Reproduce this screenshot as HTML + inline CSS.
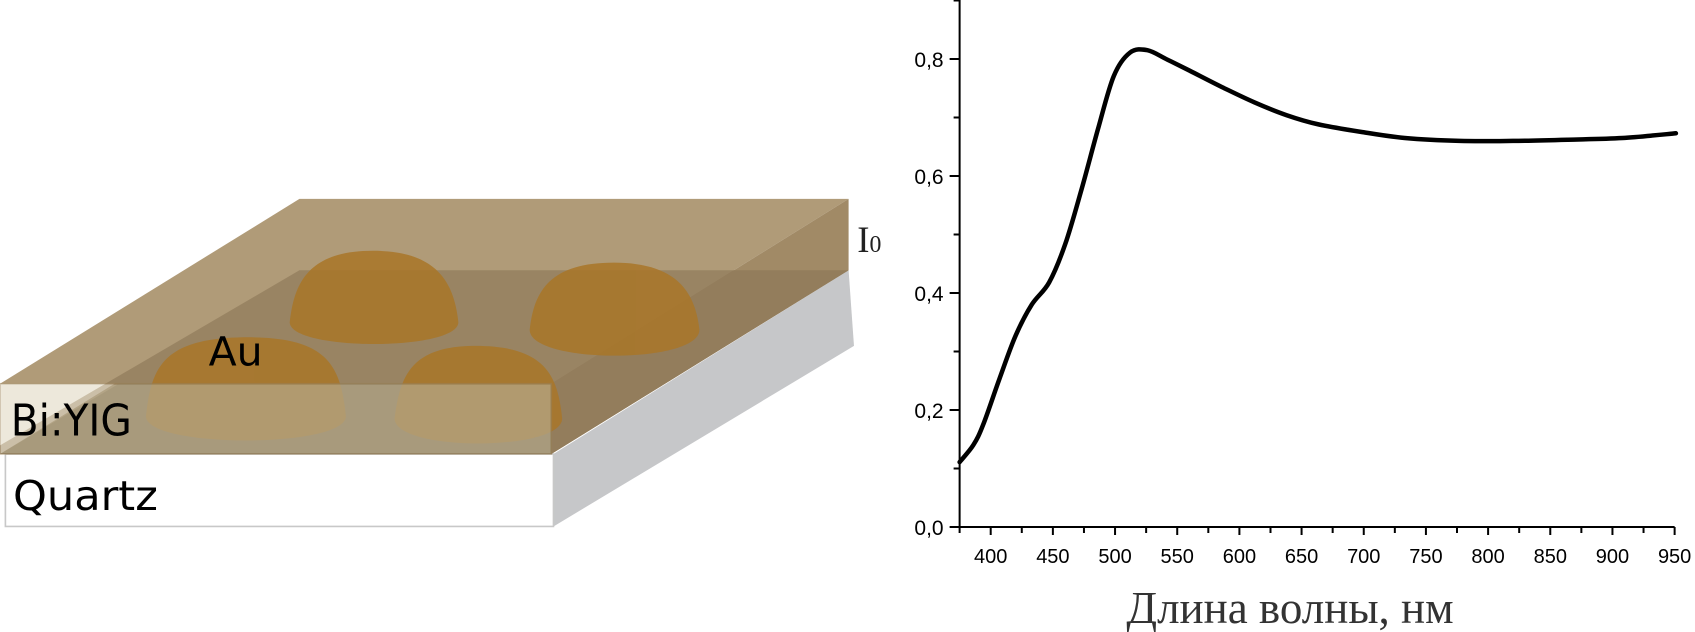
<!DOCTYPE html>
<html><head><meta charset="utf-8"><style>
html,body{margin:0;padding:0;background:#fff;}
svg{display:block;}
</style></head><body>
<svg id="root" width="1695" height="632" viewBox="0 0 1695 632" xmlns="http://www.w3.org/2000/svg">
<g transform="scale(1.081)">
  <polygon points="512,420 785,250 790,320 512,487" fill="#c6c7c9"/>
  <rect x="5" y="420" width="507" height="67" fill="#fff" stroke="#c8c8c8" stroke-width="1.5"/>
  <text x="12" y="472" font-family="DejaVu Sans, Liberation Sans, sans-serif" font-size="38" fill="#000" textLength="134" lengthAdjust="spacingAndGlyphs">Quartz</text>
  <polygon points="277,250 785,250 510,420 0,420" fill="#8b7555"/>
  <polygon points="0,355 277,184 785,184 510,355" fill="#b09b78"/>
  <polygon points="510,355 785,184 785,250 510,420" fill="#a18a66"/>
  <polygon points="277,250 785,250 510,420 0,420 0,412" fill="#8b7555" opacity="0.6"/>
  <g fill="#a97628" opacity="0.85">
    <path d="M268,298 C272,262 285,232 345,232 C405,232 420,262 424,298 C424,325 268,325 268,298 Z"/>
    <path d="M490,305 C494,268 510,243 568,243 C626,243 643,270 647,305 C647,337 490,337 490,305 Z"/>
    <path d="M135,385 C140,340 150,312 230,312 C305,312 315,340 320,385 C320,415 135,415 135,385 Z"/>
    <path d="M365,387 C370,348 380,320 440,320 C505,320 516,348 520,387 C520,418 365,418 365,387 Z"/>
  </g>
  <rect x="0" y="355" width="510" height="65" fill="#ddd3b8" opacity="0.5" stroke="#9a8056" stroke-width="1.5"/>
  <polygon points="0,420 110,355 510,355 510,420" fill="#8f8468" opacity="0.3"/>
  <text x="10" y="403" font-family="DejaVu Sans, Liberation Sans, sans-serif" font-size="40" fill="#000" textLength="112" lengthAdjust="spacingAndGlyphs">Bi:YIG</text>
  <text x="193" y="338" font-family="DejaVu Sans, Liberation Sans, sans-serif" font-size="37" fill="#000" textLength="50" lengthAdjust="spacingAndGlyphs">Au</text>
  <text x="793" y="233" font-family="Liberation Serif, serif" font-size="34" fill="#222">I<tspan font-size="22">0</tspan></text>
</g>
<g id="chart"></g>
</svg>
<script>
const wavelengths = [375,386,394,407,420,433,447,460,473,486,499,512,526,542,560,586,612,638,664,699,733,777,820,864,908,951];
const values = [0.111,0.14,0.175,0.253,0.327,0.380,0.418,0.484,0.577,0.678,0.771,0.811,0.815,0.799,0.780,0.752,0.726,0.704,0.688,0.675,0.665,0.660,0.660,0.662,0.665,0.673];
const xTicks = [400,450,500,550,600,650,700,750,800,850,900,950];
const yTicks = [0,0.2,0.4,0.6,0.8];
const yTickLabels = ["0,0","0,2","0,4","0,6","0,8"];

const NS = "http://www.w3.org/2000/svg";
const g = document.getElementById('chart');
const X = l => 990.7 + (l - 400) * 1.2435;
const Y = v => 527 - v * 585;
function mk(tag, attrs, parent) {
  const e = document.createElementNS(NS, tag);
  for (const k in attrs) e.setAttribute(k, attrs[k]);
  (parent || g).appendChild(e);
  return e;
}
const yAxis = mk('line', {x1: X(375), y1: Y(0), x2: X(375), y2: 0, stroke: '#000', 'stroke-width': 2});


const xAxis = mk('line', {x1: X(375), y1: Y(0), x2: X(950), y2: Y(0), stroke: '#000', 'stroke-width': 2});


for (let v = 0.1; v < 0.95; v += 0.2) {
  const t = mk('line', {x1: X(375) - 6, y1: Y(v), x2: X(375), y2: Y(v), stroke: '#000', 'stroke-width': 2});
  
  
}
yTicks.forEach((v, i) => {
  const t = mk('line', {x1: X(375) - 10, y1: Y(v), x2: X(375), y2: Y(v), stroke: '#000', 'stroke-width': 2});
  
  
  const tx = mk('text', {x: X(375) - 16, y: Y(v) + 8, 'text-anchor': 'end', 'font-family': 'Liberation Sans, sans-serif', 'font-size': 21, fill: '#000'});
  tx.textContent = yTickLabels[i];
  
  
});
for (let l = 375; l < 950; l += 50) {
  const t = mk('line', {x1: X(l), y1: Y(0), x2: X(l), y2: Y(0) + 6, stroke: '#000', 'stroke-width': 2});
  
  
}
xTicks.forEach(l => {
  const t = mk('line', {x1: X(l), y1: Y(0), x2: X(l), y2: Y(0) + 8, stroke: '#000', 'stroke-width': 2});
  
  
  const tx = mk('text', {x: X(l), y: 563, 'text-anchor': 'middle', 'font-family': 'Liberation Sans, sans-serif', 'font-size': 20, fill: '#000'});
  tx.textContent = String(l);
  
  
});
const pts = wavelengths.map((l, i) => [X(l), Y(values[i])]);
let d = 'M' + pts[0][0].toFixed(1) + ',' + pts[0][1].toFixed(1);
for (let i = 0; i < pts.length - 1; i++) {
  const p0 = pts[Math.max(0, i - 1)], p1 = pts[i], p2 = pts[i + 1], p3 = pts[Math.min(pts.length - 1, i + 2)];
  const c1x = p1[0] + (p2[0] - p0[0]) / 6, c1y = p1[1] + (p2[1] - p0[1]) / 6;
  const c2x = p2[0] - (p3[0] - p1[0]) / 6, c2y = p2[1] - (p3[1] - p1[1]) / 6;
  d += ' C' + c1x.toFixed(1) + ',' + c1y.toFixed(1) + ' ' + c2x.toFixed(1) + ',' + c2y.toFixed(1) + ' ' + p2[0].toFixed(1) + ',' + p2[1].toFixed(1);
}
const line = mk('path', {d: d, fill: 'none', stroke: '#000', 'stroke-width': 4.5, 'stroke-linejoin': 'round', 'stroke-linecap': 'round'});


const title = mk('text', {x: 1290, y: 623, 'text-anchor': 'middle', 'font-family': 'Liberation Serif, serif', 'font-size': 45, fill: '#333'});
title.textContent = 'Длина волны, нм';


</script>
</body></html>
